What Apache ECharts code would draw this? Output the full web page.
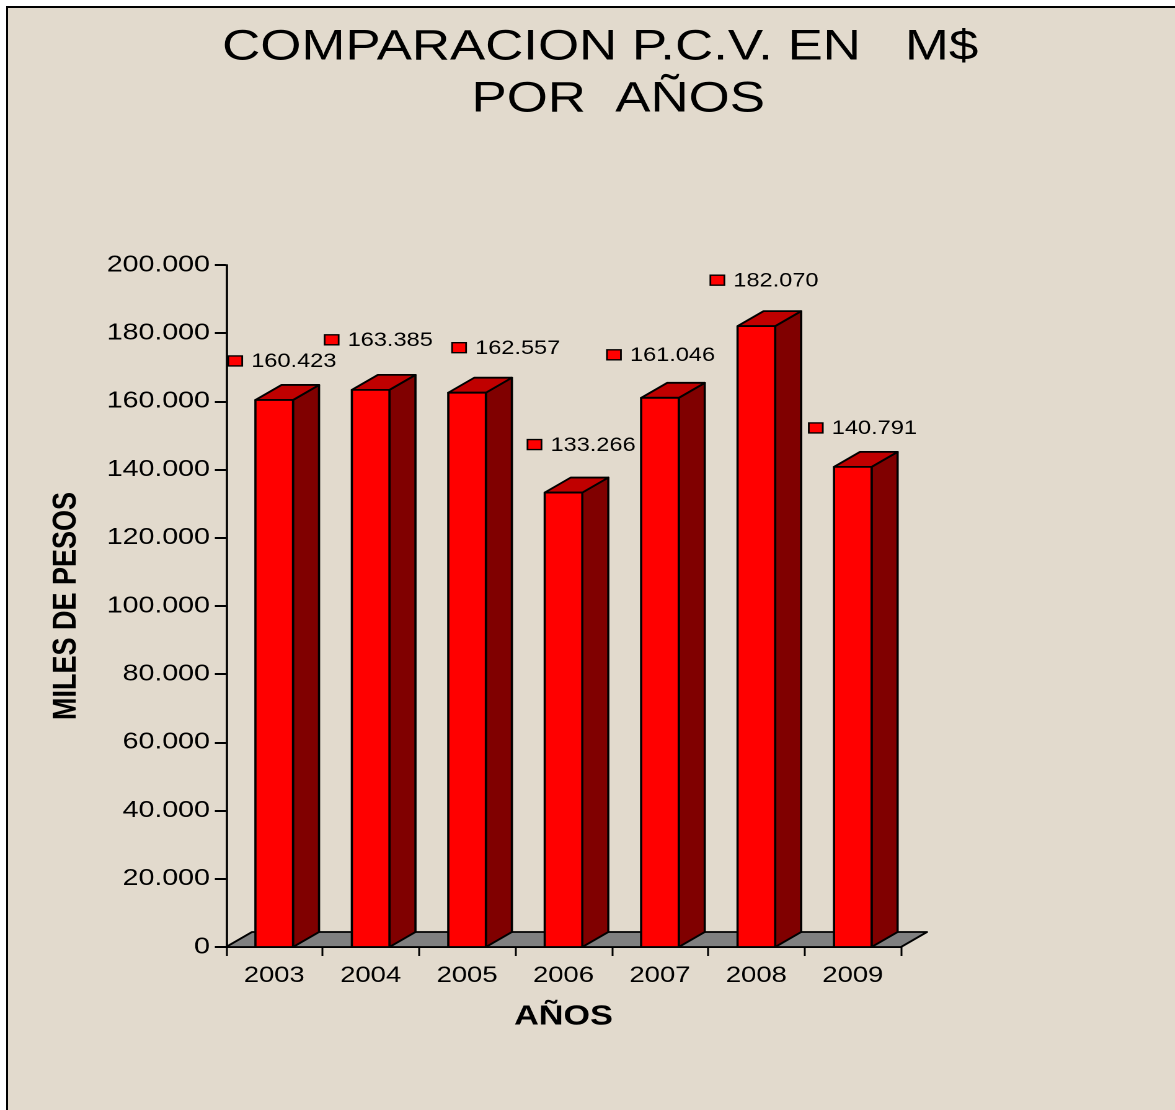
<!DOCTYPE html>
<html>
<head>
<meta charset="utf-8">
<title>COMPARACION P.C.V.</title>
<script src="https://cdn.jsdelivr.net/npm/echarts@6/dist/echarts.min.js"></script>
<style>
    html, body { margin: 0; padding: 0; background: #fff; overflow: hidden; }
    #frame { position: absolute; left: 6px; top: 6px; width: 1169px; height: 1104px; box-sizing: border-box;
        border-left: 2px solid #000; border-top: 2px solid #000; background: #e2daCD; }
    #main { position: absolute; left: 0; top: 0; width: 947.6px; height: 1110px;
        transform: scaleX(1.24); transform-origin: 0 0; }
</style>
</head>
<body>
<div id="frame"></div>
<div id="main"></div>
<script>
const years = ['2003', '2004', '2005', '2006', '2007', '2008', '2009']
const values = [160423, 163385, 162557, 133266, 161046, 182070, 140791]
const floorBase = [0]

// the reference is stretched sideways, everything below is in unstretched px
const SX = 1.24
const FONT = '"Liberation Sans", Arial, sans-serif'
const DEPTH_X = 26 / SX
const DEPTH_Y = -15

// where each value tag sits, relative to the top of its bar
const tagDx = [-39, -39, -8, -29, -46, -39, -37]
const tagDy = [-39, -50, -45, -48, -43, -46, -39]

const fmt = (v) => String(v).replace(/\B(?=(\d{3})+$)/g, '.')

const myChart = echarts.init(document.getElementById('main'), null, { devicePixelRatio: 2 })

const edge = { stroke: '#000', lineWidth: 1.8, lineJoin: 'round' }

function renderFloor(params, api) {
    const c = params.coordSys
    const y = api.coord([0, api.value(0)])[1]
    const l = c.x
    const r = c.x + c.width
    return {
        type: 'polygon',
        shape: { points: [[l, y], [l + DEPTH_X, y + DEPTH_Y], [r + DEPTH_X, y + DEPTH_Y], [r, y]] },
        style: { fill: '#808080', ...edge },
    }
}

function renderBar(params, api) {
    const i = params.dataIndex
    const top = api.coord([api.value(0), api.value(1)])
    const base = api.coord([api.value(0), 0])
    const w = api.size([1, 0])[0] * 0.39
    const l = top[0] - w / 2
    const r = top[0] + w / 2
    const tagX = top[0] + tagDx[i] / SX
    const tagY = top[1] + tagDy[i]
    return {
        type: 'group',
        children: [
            {
                type: 'polygon',
                shape: { points: [[r, base[1]], [r + DEPTH_X, base[1] + DEPTH_Y], [r + DEPTH_X, top[1] + DEPTH_Y], [r, top[1]]] },
                style: { fill: '#800000', ...edge },
            },
            {
                type: 'polygon',
                shape: { points: [[l, top[1]], [l + DEPTH_X, top[1] + DEPTH_Y], [r + DEPTH_X, top[1] + DEPTH_Y], [r, top[1]]] },
                style: { fill: '#c00000', ...edge },
            },
            {
                type: 'rect',
                shape: { x: l, y: top[1], width: w, height: base[1] - top[1] },
                style: { fill: '#ff0000', ...edge },
            },
            {
                type: 'rect',
                shape: { x: tagX - 14 / SX / 2, y: tagY - 5, width: 14 / SX, height: 10 },
                style: { fill: '#ff0000', stroke: '#000', lineWidth: 1.4 },
            },
            {
                type: 'text',
                x: tagX + 16 / SX,
                y: tagY + 1,
                style: {
                    text: fmt(api.value(1)),
                    fill: '#000',
                    fontSize: 19,
                    fontFamily: FONT,
                    align: 'left',
                    verticalAlign: 'middle',
                },
            },
        ],
    }
}

const option = {
    backgroundColor: 'transparent',
    animation: false,
    title: [
        {
            text: 'COMPARACION P.C.V. EN   M$',
            left: 594 / SX,
            top: 21,
            textAlign: 'center',
            textStyle: { fontFamily: FONT, fontSize: 42.6, fontWeight: 'normal', color: '#000' },
        },
        {
            text: 'POR  AÑOS',
            left: 612 / SX,
            top: 73,
            textAlign: 'center',
            textStyle: { fontFamily: FONT, fontSize: 42.6, fontWeight: 'normal', color: '#000' },
        },
    ],
    grid: {
        left: 226 / SX,
        top: 265,
        width: 675 / SX,
        height: 682,
    },
    xAxis: {
        type: 'category',
        data: years,
        name: 'AÑOS',
        nameLocation: 'middle',
        nameGap: 56,
        nameTextStyle: { fontFamily: FONT, fontSize: 27.6, fontWeight: 'bold', color: '#000' },
        axisLine: { show: true, lineStyle: { color: '#000', width: 2 } },
        axisTick: { show: true, alignWithLabel: false, length: 9, lineStyle: { color: '#000', width: 1.5 } },
        axisLabel: { fontFamily: FONT, fontSize: 22.1, color: '#000', margin: 18 },
    },
    yAxis: {
        type: 'value',
        min: 0,
        max: 200000,
        interval: 20000,
        name: 'MILES DE PESOS',
        nameLocation: 'middle',
        nameGap: 115,
        nameRotate: 90,
        nameTextStyle: { fontFamily: FONT, fontSize: 27, fontWeight: 'bold', color: '#000' },
        splitLine: { show: false },
        axisLine: { show: true, lineStyle: { color: '#000', width: 1.8 } },
        axisTick: { show: true, length: 9, lineStyle: { color: '#000', width: 2 } },
        axisLabel: { fontFamily: FONT, fontSize: 23, color: '#000', margin: 13, padding: [5, 0, 0, 0], formatter: fmt },
    },
    series: [
        {
            type: 'custom',
            renderItem: renderFloor,
            data: floorBase,
            encode: { y: 0 },
            z: 1,
            silent: true,
        },
        {
            type: 'custom',
            renderItem: renderBar,
            data: values.map((v, i) => [i, v]),
            encode: { x: 0, y: 1 },
            z: 3,
            clip: false,
        },
    ],
}

myChart.setOption(option)
</script>
</body>
</html>
